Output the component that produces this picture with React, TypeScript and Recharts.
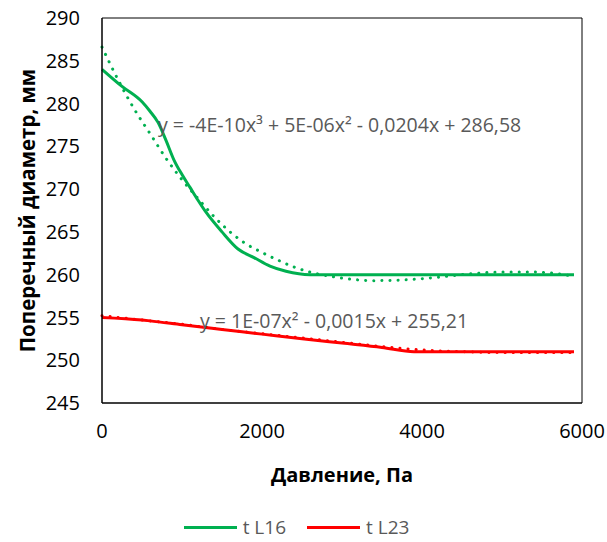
import React from 'react';
import {
  LineChart,
  Line,
  XAxis,
  YAxis,
  Legend,
  ReferenceLine,
  ReferenceDot,
} from 'recharts';

// measured curves (pressure, Pa -> diameter, mm)
const l16X = [0, 250, 500, 600, 700, 800, 900, 1000, 1100, 1200, 1300, 1500, 1700, 1900, 2100, 2300, 2600, 3000, 3500, 4000, 4500, 5000, 5500, 5900];
const l16Y = [284.0, 282.0, 280.2, 279.1, 277.8, 275.7, 273.4, 271.7, 270.2, 268.7, 267.3, 265.0, 263.0, 262.0, 261.0, 260.4, 260.0, 260.0, 260.0, 260.0, 260.0, 260.0, 260.0, 260.0];

const l23X = [0, 500, 600, 1000, 1500, 2000, 2500, 3000, 3500, 3900, 4500, 5000, 5500, 5900];
const l23Y = [255.0, 254.7, 254.6, 254.15, 253.6, 253.05, 252.5, 252.0, 251.5, 251.0, 251.0, 251.0, 251.0, 251.0];

// trend lines
const l16TrendX = [0, 200, 400, 600, 800, 1000, 1200, 1400, 1600, 1800, 2000, 2200, 2400, 2600, 2800, 3000, 3400, 3800, 4200, 4600, 5000, 5400, 5700, 5900];
const l16TrendY = [286.6, 282.8, 279.4, 276.5, 273.6, 271.1, 268.9, 266.8, 265.0, 263.6, 262.6, 261.7, 260.9, 260.3, 259.9, 259.6, 259.3, 259.4, 259.7, 260.1, 260.3, 260.3, 260.1, 259.8];

const l23TrendX = [0, 500, 1000, 1500, 2000, 2500, 3000, 3500, 4000, 4500, 5000, 5500, 5900];
const l23TrendY = [255.2, 254.7, 254.2, 253.6, 253.1, 252.6, 252.1, 251.6, 251.2, 251.0, 250.9, 250.9, 250.9];

const xTicks = [0, 2000, 4000, 6000];
const yTicks = [245, 250, 255, 260, 265, 270, 275, 280, 285, 290];

const eqL16 = 'y = -4E-10x³ + 5E-06x² - 0,0204x + 286,58';
const eqL23 = 'y = 1E-07x² - 0,0015x + 255,21';

const toPoints = (xs: number[], ys: number[]) => xs.map((x, i) => ({ x, y: ys[i] }));

const GREEN = '#00B050';
const RED = '#FF0000';
const FONT = '"Open Sans", sans-serif';

const renderLegend = (props: any) => {
  const items = (props.payload || []).filter((p: any) => p.type !== 'none');
  return (
    <div style={{ display: 'flex', justifyContent: 'center', gap: 21, fontFamily: FONT, fontSize: 19, color: '#595959', paddingRight: 14 }}>
      {items.map((e: any) => (
        <span key={e.value} style={{ display: 'flex', alignItems: 'center' }}>
          <span style={{ display: 'inline-block', width: 53, height: 3, background: e.color, marginRight: 6 }} />
          <span>{e.value}</span>
        </span>
      ))}
    </div>
  );
};

const eqShape = (text: string) => (p: any) => (
  <text x={p.cx} y={p.cy} dominantBaseline="central" fill="#595959" fontFamily={FONT} fontSize={19.5}>
    {text}
  </text>
);

export default function App() {
  return (
    <div style={{ position: 'absolute', left: 0, top: 0, background: '#fff' }}>
      <LineChart width={607} height={542} margin={{ top: 18, right: 25, left: 0, bottom: 49 }}>
        <XAxis
          type="number"
          dataKey="x"
          domain={[0, 6000]}
          ticks={xTicks}
          tickLine={false}
          tickMargin={15}
          height={90}
          axisLine={{ stroke: '#000', strokeWidth: 1.5 }}
          tick={{ fill: '#000', fontSize: 20, fontFamily: FONT }}
          label={{ value: 'Давление, Па', position: 'insideBottom', offset: 11, fill: '#000', fontSize: 20, fontWeight: 700, fontFamily: FONT }}
        />
        <YAxis
          type="number"
          domain={[245, 290]}
          ticks={yTicks}
          tickLine={false}
          tickMargin={16}
          width={102}
          axisLine={{ stroke: '#000', strokeWidth: 1.5 }}
          tick={{ fill: '#000', fontSize: 20, fontFamily: FONT }}
          label={{ value: 'Поперечный диаметр, мм', angle: -90, position: 'insideLeft', offset: 28, fill: '#000', fontSize: 20.5, fontWeight: 700, fontFamily: FONT, style: { textAnchor: 'middle' } }}
        />
        <ReferenceLine y={290} stroke="#000" strokeWidth={1} />
        <ReferenceLine x={6000} stroke="#000" strokeWidth={1} />
        <Line data={toPoints(l16TrendX, l16TrendY)} dataKey="y" type="monotone" stroke={GREEN} strokeWidth={3} strokeDasharray="0.1 8" strokeLinecap="round" dot={false} legendType="none" isAnimationActive={false} />
        <Line data={toPoints(l23TrendX, l23TrendY)} dataKey="y" type="monotone" stroke={RED} strokeWidth={3} strokeDasharray="0.1 8" strokeLinecap="round" dot={false} legendType="none" isAnimationActive={false} />
        <Line data={toPoints(l16X, l16Y)} dataKey="y" name="t L16" type="monotone" stroke={GREEN} strokeWidth={3} dot={false} isAnimationActive={false} />
        <Line data={toPoints(l23X, l23Y)} dataKey="y" name="t L23" type="monotone" stroke={RED} strokeWidth={3} dot={false} isAnimationActive={false} />
        <ReferenceDot x={700} y={277.6} r={0} ifOverflow="visible" shape={eqShape(eqL16)} />
        <ReferenceDot x={1225} y={254.6} r={0} ifOverflow="visible" shape={eqShape(eqL23)} />
        <Legend verticalAlign="middle" align="center" content={renderLegend} wrapperStyle={{ top: 514, left: 0, width: 607 }} />
      </LineChart>
    </div>
  );
}
